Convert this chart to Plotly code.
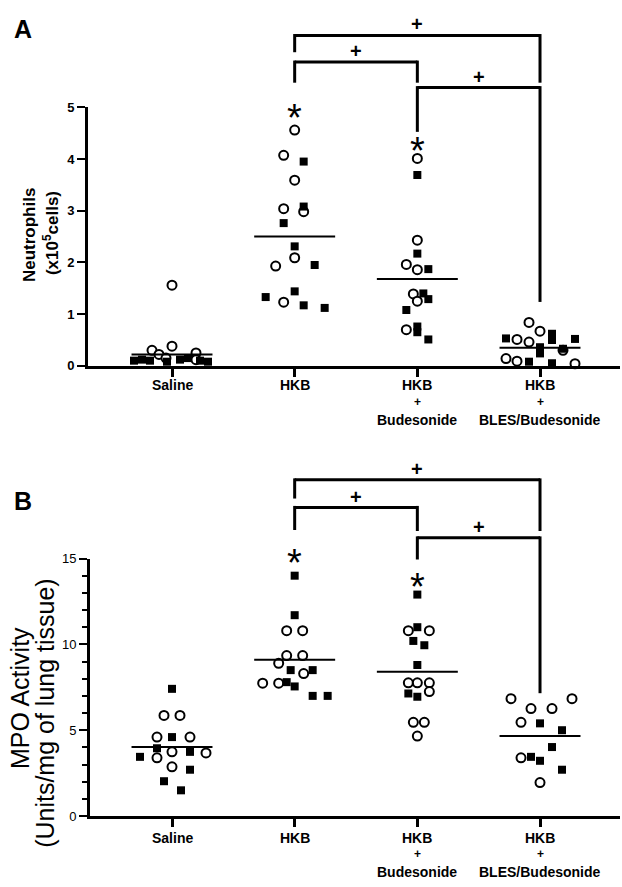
import plotly.graph_objects as go

W, H = 622, 887

# ---------------- data ----------------
categories = ["Saline", "HKB", "HKB+Budesonide", "HKB+BLES/Budesonide"]
tick_line1 = ["Saline", "HKB", "HKB", "HKB"]
tick_line2 = ["", "", "+", "+"]
tick_line3 = ["", "", "Budesonide", "BLES/Budesonide"]

# Panel A: neutrophils (x10^5 cells); open circles / filled squares
a_saline_circ = [1.56, 0.38, 0.30, 0.25, 0.22, 0.15, 0.12]
a_saline_sq = [0.10, 0.12, 0.10, 0.08, 0.12, 0.15, 0.10, 0.08]
a_hkb_circ = [4.56, 4.07, 3.59, 3.04, 2.98, 2.09, 1.93, 1.23]
a_hkb_sq = [3.95, 3.08, 2.76, 2.31, 1.95, 1.44, 1.33, 1.17, 1.12]
a_bud_circ = [4.01, 2.43, 1.96, 1.86, 1.39, 1.25, 0.70]
a_bud_sq = [3.69, 2.17, 1.87, 1.40, 1.29, 1.08, 0.76, 0.65, 0.51]
a_bles_circ = [0.84, 0.67, 0.51, 0.46, 0.30, 0.14, 0.09, 0.04]
a_bles_sq = [0.62, 0.50, 0.53, 0.52, 0.36, 0.24, 0.33, 0.08, 0.05]
a_medians = [0.22, 2.50, 1.68, 0.35]

# Panel B: MPO activity (Units/mg of lung tissue)
b_saline_circ = [5.86, 5.86, 4.60, 4.60, 3.74, 3.68, 3.39, 2.87]
b_saline_sq = [7.41, 4.60, 3.95, 3.74, 3.45, 2.70, 2.03, 1.50]
b_hkb_circ = [10.8, 10.8, 9.35, 9.35, 8.9, 8.3, 7.74, 7.74]
b_hkb_sq = [14.0, 11.7, 8.5, 8.5, 7.8, 7.55, 7.0, 7.0]
b_bud_circ = [10.8, 10.8, 7.76, 7.76, 7.76, 7.25, 5.46, 5.46, 4.66]
b_bud_sq = [12.9, 11.0, 10.2, 9.95, 8.8, 7.14, 6.95]
b_bles_circ = [6.84, 6.84, 6.26, 6.26, 5.46, 3.39, 1.95]
b_bles_sq = [5.4, 5.0, 4.02, 3.45, 3.22, 2.7]
b_medians = [4.02, 9.10, 8.40, 4.66]

# horizontal scatter offsets of each point (pixels)
a_saline_circ_dx = [0, 0, -20, 24, -13, -6, 24]
a_saline_sq_dx = [-38, -30, -22, -5, 8, 16, 28, 36]
a_hkb_circ_dx = [0, -11, 0, -11, 9, 0, -19, -11]
a_hkb_sq_dx = [9, 9, -11, 0, 20, 0, -29, 9, 30]
a_bud_circ_dx = [0, 0, -11, 0, -4, 0, -11]
a_bud_sq_dx = [0, 0, 11, 6, 11, -11, 0, 0, 11]
a_bles_circ_dx = [-11, 0, -23, -11, 23, -34, -23, 35]
a_bles_sq_dx = [12, 12, -34, 35, 0, 0, 23, -11, 12]

b_saline_circ_dx = [-8, 8, -15, 18, 0, 34, -15, 0]
b_saline_sq_dx = [0, 0, -15, 18, -32, 18, -8, 9]
b_hkb_circ_dx = [-8, 8, -8, 8, -16, 9, -32, -16]
b_hkb_sq_dx = [0, 0, -4, 18, -8, 0, 18, 33]
b_bud_circ_dx = [-9, 12, -9, 0, 12, 12, -4, 7, 0]
b_bud_sq_dx = [0, 0, -4, 7, 0, -9, 0]
b_bles_circ_dx = [-29, 32, -9, 12, -19, -19, 0]
b_bles_sq_dx = [0, 22, 12, -9, 0, 22]

# ---------------- layout geometry (page pixels) ----------------
PX_PER_CAT = 122.67
A_X0, A_X1, A_Y0, A_Y1 = 88, 620, 365, 102   # pixel box of panel A
B_X0, B_X1, B_Y0, B_Y1 = 90, 620, 823, 561   # pixel box of panel B
CAT0_PX = 172
rA0 = -(CAT0_PX - A_X0) / PX_PER_CAT
rA1 = rA0 + (A_X1 - A_X0) / PX_PER_CAT
rB0 = -(CAT0_PX - B_X0) / PX_PER_CAT
rB1 = rB0 + (B_X1 - B_X0) / PX_PER_CAT


def px(x):
    return x / W


def py(y):
    return 1 - y / H


def cat_px(c, x0=A_X0, r0=rA0):
    return x0 + (c - r0) * PX_PER_CAT


FONT = "Liberation Sans, Arial, Helvetica, sans-serif"
BLACK = "#000000"

fig = go.Figure()


def add_group(c, circ, circ_dx, sq, sq_dx, med, xa, ya):
    fig.add_trace(go.Scatter(
        x=[c + d / PX_PER_CAT for d in circ_dx], y=circ, mode="markers",
        marker=dict(symbol="circle", size=9, color="white",
                    line=dict(color=BLACK, width=2)),
        xaxis=xa, yaxis=ya, cliponaxis=False, hoverinfo="y"))
    fig.add_trace(go.Scatter(
        x=[c + d / PX_PER_CAT for d in sq_dx], y=sq, mode="markers",
        marker=dict(symbol="square", size=8, color=BLACK,
                    line=dict(color=BLACK, width=0)),
        xaxis=xa, yaxis=ya, cliponaxis=False, hoverinfo="y"))
    fig.add_trace(go.Scatter(
        x=[c - 0.33, c + 0.33], y=[med, med], mode="lines",
        line=dict(color=BLACK, width=2),
        xaxis=xa, yaxis=ya, cliponaxis=False, hoverinfo="skip"))


a_groups = [
    (a_saline_circ, a_saline_circ_dx, a_saline_sq, a_saline_sq_dx),
    (a_hkb_circ, a_hkb_circ_dx, a_hkb_sq, a_hkb_sq_dx),
    (a_bud_circ, a_bud_circ_dx, a_bud_sq, a_bud_sq_dx),
    (a_bles_circ, a_bles_circ_dx, a_bles_sq, a_bles_sq_dx),
]
b_groups = [
    (b_saline_circ, b_saline_circ_dx, b_saline_sq, b_saline_sq_dx),
    (b_hkb_circ, b_hkb_circ_dx, b_hkb_sq, b_hkb_sq_dx),
    (b_bud_circ, b_bud_circ_dx, b_bud_sq, b_bud_sq_dx),
    (b_bles_circ, b_bles_circ_dx, b_bles_sq, b_bles_sq_dx),
]
for i, (ci, cdx, si, sdx) in enumerate(a_groups):
    add_group(i, ci, cdx, si, sdx, a_medians[i], "x", "y")
for i, (ci, cdx, si, sdx) in enumerate(b_groups):
    add_group(i, ci, cdx, si, sdx, b_medians[i], "x2", "y2")

axis_common = dict(showline=True, linecolor=BLACK, linewidth=3, showgrid=False,
                   zeroline=False, ticks="outside", tickcolor=BLACK)

fig.update_layout(
    width=W, height=H, margin=dict(l=0, r=0, t=0, b=0),
    paper_bgcolor="white", plot_bgcolor="white", showlegend=False,
    xaxis=dict(axis_common, domain=[px(A_X0), px(A_X1)], range=[rA0, rA1],
               tickvals=[0, 1, 2, 3], showticklabels=False, ticklen=8, tickwidth=3,
               anchor="y"),
    yaxis=dict(axis_common, domain=[py(A_Y0), py(A_Y1)], range=[0, 5],
               tickvals=[0, 1, 2, 3, 4, 5], ticklen=8, tickwidth=2,
               tickfont=dict(family=FONT, size=13, color=BLACK, weight="bold"),
               anchor="x"),
    xaxis2=dict(axis_common, domain=[px(B_X0), px(B_X1)], range=[rB0, rB1],
                tickvals=[0, 1, 2, 3], showticklabels=False, ticklen=8, tickwidth=3,
                anchor="y2"),
    yaxis2=dict(axis_common, domain=[py(B_Y0), py(B_Y1)], range=[0, 15],
                tickvals=[0, 5, 10, 15], ticklen=8, tickwidth=2,
                tickfont=dict(family=FONT, size=13, color=BLACK),
                minor=dict(dtick=1, ticks="outside", ticklen=5, tickwidth=2,
                           tickcolor=BLACK),
                anchor="x2"),
)

ann = []


def text(x, y, s, size, bold=False, angle=0):
    ann.append(dict(x=px(x), y=py(y), xref="paper", yref="paper", text=s,
                    showarrow=False, xanchor="center", yanchor="middle",
                    textangle=angle,
                    font=dict(family=FONT, size=size, color=BLACK,
                              weight="bold" if bold else "normal")))


# category labels
for i in range(4):
    xa = cat_px(i, A_X0, rA0)
    xb = cat_px(i, B_X0, rB0)
    for (x, ys) in ((xa, (384, 402, 420)), (xb, (845, 862, 880))):
        for line, yy in zip((tick_line1[i], tick_line2[i], tick_line3[i]), ys):
            if line:
                text(x, yy, line, 14 if line != "+" else 12, bold=True)

# axis titles
text(29, 232, "Neutrophils", 17, bold=True, angle=-90)
text(51, 230, "(x10<sup>5</sup>cells)", 17, bold=True, angle=-90)
text(20, 703, "MPO Activity", 25, angle=-90)
text(45, 718, "(Units/mg of lung tissue)", 25, angle=-90)

# panel letters
text(23, 22, "A", 25, bold=True)
text(23, 503, "B", 25, bold=True)

# significance asterisks
for c, yy, x0, r0 in ((1, 105, A_X0, rA0), (2, 138, A_X0, rA0),
                      (1, 558, B_X0, rB0), (2, 582, B_X0, rB0)):
    text(cat_px(c, x0, r0), yy + 8, "*", 38)

shapes = []


def seg(x0, y0, x1, y1, w=3):
    shapes.append(dict(type="line", xref="paper", yref="paper",
                       x0=px(x0), y0=py(y0), x1=px(x1), y1=py(y1),
                       line=dict(color=BLACK, width=w)))


def bracket(c_left, c_right, ybar, yl, yr, x0, r0, plus_y):
    xl, xr = cat_px(c_left, x0, r0), cat_px(c_right, x0, r0)
    seg(xl, ybar, xr, ybar)
    seg(xl, ybar - 1.5, xl, yl)
    seg(xr, ybar - 1.5, xr, yr)
    text((xl + xr) / 2, plus_y, "+", 20, bold=True)


# panel A brackets
bracket(1, 3, 29, 46, 77, A_X0, rA0, 17)
bracket(1, 2, 56, 77, 77, A_X0, rA0, 45)
bracket(2, 3, 82, 127, 300, A_X0, rA0, 71)
# panel B brackets
bracket(1, 3, 481, 500, 533, B_X0, rB0, 470)
bracket(1, 2, 509, 532, 533, B_X0, rB0, 498)
bracket(2, 3, 540, 562, 698, B_X0, rB0, 529)

fig.update_layout(annotations=ann, shapes=shapes)
fig.write_html("out.html",
               config={"displayModeBar": False},
               post_script="document.body.style.margin='0';"
                           "document.documentElement.style.margin='0';")
